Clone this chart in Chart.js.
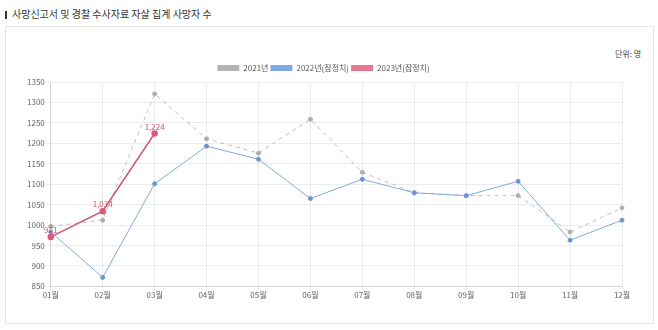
<!DOCTYPE html>
<html>
<head>
<meta charset="utf-8">
<script src="https://cdn.jsdelivr.net/npm/chart.js@4"></script>
<style>
	body { margin: 0; background: #fff; font-family: "Noto Sans CJK KR", "Noto Sans", sans-serif; }
	#title { position: absolute; left: 5px; top: 6px; font-size: 10px; color: #333; }
	#title span { display: inline-block; width: 2px; height: 8px; background: #333; margin-right: 5px; vertical-align: -1px; }
	#box { position: absolute; left: 5px; top: 26px; width: 647px; height: 296px; border: 1px solid #e6e6e6; }
	#unit { position: absolute; left: 615px; top: 48px; font-size: 8px; color: #444; }
	#wrap { position: absolute; left: 8px; top: 62px; width: 632px; height: 238px; }
</style>
</head>
<body>
<div id="title"><span></span>사망신고서 및 경찰 수사자료 자살 집계 사망자 수</div>
<div id="box"></div>
<div id="unit">단위: 명</div>
<div id="wrap"><canvas id="myChart"></canvas></div>
<script>
var months = ['01월','02월','03월','04월','05월','06월','07월','08월','09월','10월','11월','12월'];
var y2021 = [997, 1012, 1321, 1211, 1176, 1259, 1129, 1079, 1072, 1072, 983, 1042];
var y2022 = [983, 872, 1101, 1193, 1161, 1065, 1112, 1079, 1072, 1107, 963, 1012];
var y2023 = [971, 1034, 1224];

var tickFont = { size: 8, family: '"Noto Sans CJK KR", sans-serif' };

// значения над точками только для 2023
var valueLabels = {
	id: 'valueLabels',
	afterDatasetsDraw: function(chart){
		var ctx = chart.ctx;
		var meta = chart.getDatasetMeta(2);
		ctx.save();
		ctx.font = '8px "Noto Sans CJK KR", sans-serif';
		ctx.fillStyle = '#d0566f';
		ctx.textAlign = 'center';
		ctx.textBaseline = 'bottom';
		for (var i = 0; i < meta.data.length; i++){
			var p = meta.data[i];
			ctx.fillText(y2023[i].toLocaleString('en-US'), p.x, p.y - 3);
		}
		ctx.restore();
	}
};

window.chart = new Chart(document.getElementById('myChart').getContext('2d'), {
	type: 'line',
	data: {
		labels: months,
		datasets: [{
			label: '2021년',
			data: y2021,
			borderColor: 'rgba(190,190,190,1)',
			backgroundColor: 'rgba(180,180,180,1)',
			pointBackgroundColor: 'rgba(175,175,175,1)',
			pointBorderColor: 'rgba(175,175,175,1)',
			borderDash: [4, 4],
			borderWidth: 1,
			pointRadius: 2,
			order: 3
		}, {
			label: '2022년(잠정치)',
			data: y2022,
			borderColor: 'rgba(130,170,220,1)',
			backgroundColor: 'rgba(125,170,230,1)',
			pointBackgroundColor: 'rgba(110,150,205,1)',
			pointBorderColor: 'rgba(110,150,205,1)',
			borderWidth: 1,
			pointRadius: 2,
			order: 2
		}, {
			label: '2023년(잠정치)',
			data: y2023,
			borderColor: 'rgba(205,85,115,1)',
			backgroundColor: 'rgba(232,120,150,1)',
			pointBackgroundColor: 'rgba(215,90,120,1)',
			pointBorderColor: 'rgba(215,90,120,1)',
			borderWidth: 1.5,
			pointRadius: 2.5,
			order: 1
		}]
	},
	options: {
		responsive: true,
		maintainAspectRatio: false,
		animation: false,
		layout: { padding: { left: 17, right: 18, top: 0, bottom: 0 } },
		plugins: {
			legend: {
				labels: {
					boxWidth: 22,
					boxHeight: 6,
					padding: 2,
					color: '#555',
					font: tickFont,
					sort: function(a, b){ return a.datasetIndex - b.datasetIndex; },
					generateLabels: function(chart){
						var items = Chart.defaults.plugins.legend.labels.generateLabels(chart);
						for (var i = 0; i < items.length; i++){
							items[i].lineDash = [];
							items[i].lineWidth = 0;
							items[i].strokeStyle = 'rgba(0,0,0,0)';
						}
						return items;
					}
				}
			},
			tooltip: { enabled: false }
		},
		scales: {
			x: {
				grid: { color: '#ececec', tickLength: 4 },
				ticks: { color: '#666', padding: 0, font: tickFont }
			},
			y: {
				min: 850,
				max: 1350,
				grid: { color: '#ececec', tickLength: 4 },
				ticks: {
					stepSize: 50,
					color: '#666',
					padding: 2,
					font: tickFont,
					callback: function(v){ return String(v); }
				}
			}
		}
	},
	plugins: [valueLabels]
});
</script>
</body>
</html>
